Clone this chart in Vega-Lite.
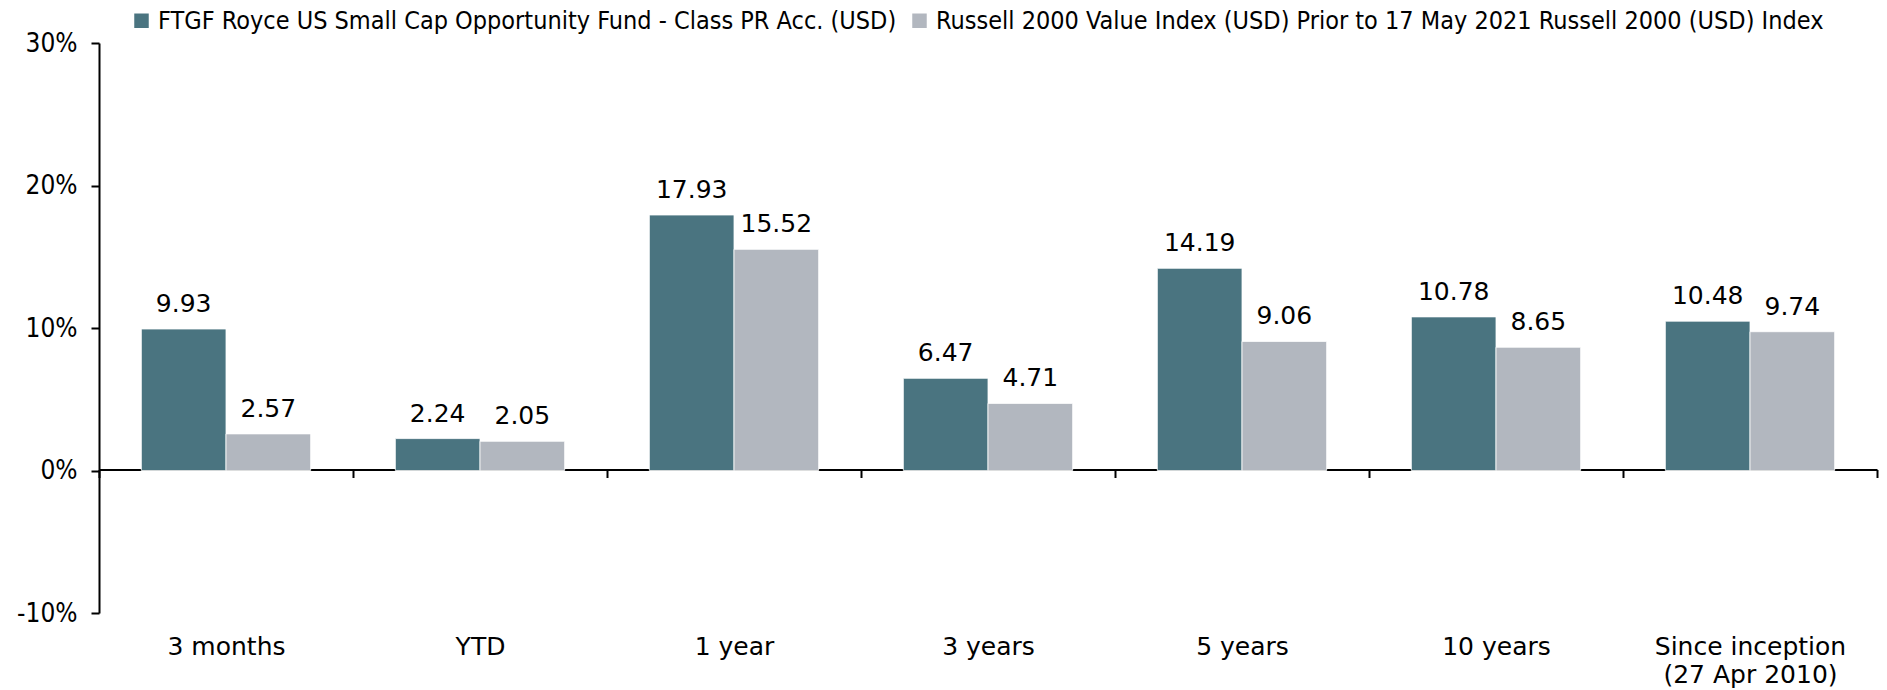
{
  "$schema": "https://vega.github.io/schema/vega-lite/v6.json",
  "autosize": "none",
  "width": 1778,
  "height": 570,
  "padding": {"left": 99, "top": 43, "right": 10, "bottom": 77},
  "background": "white",
  "config": {"view": {"stroke": null}},
  "data": {
    "values": [
      {"period": "3 months", "series": "FTGF Royce US Small Cap Opportunity Fund - Class PR Acc. (USD)", "value": 9.93},
      {"period": "3 months", "series": "Russell 2000 Value Index (USD) Prior to 17 May 2021 Russell 2000 (USD) Index", "value": 2.57},
      {"period": "YTD", "series": "FTGF Royce US Small Cap Opportunity Fund - Class PR Acc. (USD)", "value": 2.24},
      {"period": "YTD", "series": "Russell 2000 Value Index (USD) Prior to 17 May 2021 Russell 2000 (USD) Index", "value": 2.05},
      {"period": "1 year", "series": "FTGF Royce US Small Cap Opportunity Fund - Class PR Acc. (USD)", "value": 17.93},
      {"period": "1 year", "series": "Russell 2000 Value Index (USD) Prior to 17 May 2021 Russell 2000 (USD) Index", "value": 15.52},
      {"period": "3 years", "series": "FTGF Royce US Small Cap Opportunity Fund - Class PR Acc. (USD)", "value": 6.47},
      {"period": "3 years", "series": "Russell 2000 Value Index (USD) Prior to 17 May 2021 Russell 2000 (USD) Index", "value": 4.71},
      {"period": "5 years", "series": "FTGF Royce US Small Cap Opportunity Fund - Class PR Acc. (USD)", "value": 14.19},
      {"period": "5 years", "series": "Russell 2000 Value Index (USD) Prior to 17 May 2021 Russell 2000 (USD) Index", "value": 9.06},
      {"period": "10 years", "series": "FTGF Royce US Small Cap Opportunity Fund - Class PR Acc. (USD)", "value": 10.78},
      {"period": "10 years", "series": "Russell 2000 Value Index (USD) Prior to 17 May 2021 Russell 2000 (USD) Index", "value": 8.65},
      {"period": "Since inception (27 Apr 2010)", "series": "FTGF Royce US Small Cap Opportunity Fund - Class PR Acc. (USD)", "value": 10.48},
      {"period": "Since inception (27 Apr 2010)", "series": "Russell 2000 Value Index (USD) Prior to 17 May 2021 Russell 2000 (USD) Index", "value": 9.74}
    ]
  },
  "encoding": {
    "x": {
      "field": "period",
      "type": "nominal",
      "sort": null,
      "scale": {"paddingInner": 0, "paddingOuter": 0},
      "axis": {
        "title": null,
        "orient": "bottom",
        "offset": -143.5,
        "tickBand": "extent",
        "domainColor": "black",
        "domainWidth": 2,
        "tickColor": "black",
        "tickWidth": 2,
        "tickSize": 8,
        "labelAngle": 0,
        "labelFont": "DejaVu Sans",
        "labelFontSize": 25,
        "labelColor": "black",
        "labelPadding": 157,
        "labelBaseline": "top",
        "labelLineHeight": 28,
        "labelLimit": 1000,
        "labelExpr": "datum.value == 'Since inception (27 Apr 2010)' ? ['Since inception', '(27 Apr 2010)'] : datum.value"
      }
    },
    "xOffset": {
      "field": "series",
      "type": "nominal",
      "sort": null,
      "scale": {"paddingInner": 0, "paddingOuter": 0.5}
    },
    "y": {
      "field": "value",
      "type": "quantitative",
      "scale": {"domain": [-10, 30], "nice": false, "zero": false},
      "axis": {
        "title": null,
        "values": [-10, 0, 10, 20, 30],
        "grid": false,
        "domainColor": "black",
        "domainWidth": 2,
        "tickColor": "black",
        "tickWidth": 2,
        "tickSize": 8,
        "labelFont": "DejaVu Sans Condensed",
        "labelFontSize": 26,
        "labelColor": "black",
        "labelPadding": 14,
        "labelExpr": "datum.value + '%'"
      }
    }
  },
  "layer": [
    {
      "mark": {"type": "bar", "stroke": "white", "strokeWidth": 0.8},
      "encoding": {
        "color": {
          "field": "series",
          "type": "nominal",
          "sort": null,
          "scale": {"range": ["#4A7480", "#B2B7BF"]},
          "legend": {
            "title": null,
            "orient": "none",
            "direction": "horizontal",
            "legendX": 30,
            "legendY": -35,
            "symbolType": "square",
            "symbolSize": 210,
            "symbolStrokeWidth": 0,
            "labelFont": "DejaVu Sans Condensed",
            "labelFontSize": 25,
            "labelColor": "black",
            "labelLimit": 1000,
            "labelOffset": 4,
            "columnPadding": 10
          }
        }
      }
    },
    {
      "mark": {"type": "text", "font": "DejaVu Sans", "fontSize": 25, "baseline": "alphabetic", "dy": -17, "color": "black"},
      "encoding": {
        "text": {"field": "value", "type": "quantitative", "format": ".2f"}
      }
    }
  ]
}
